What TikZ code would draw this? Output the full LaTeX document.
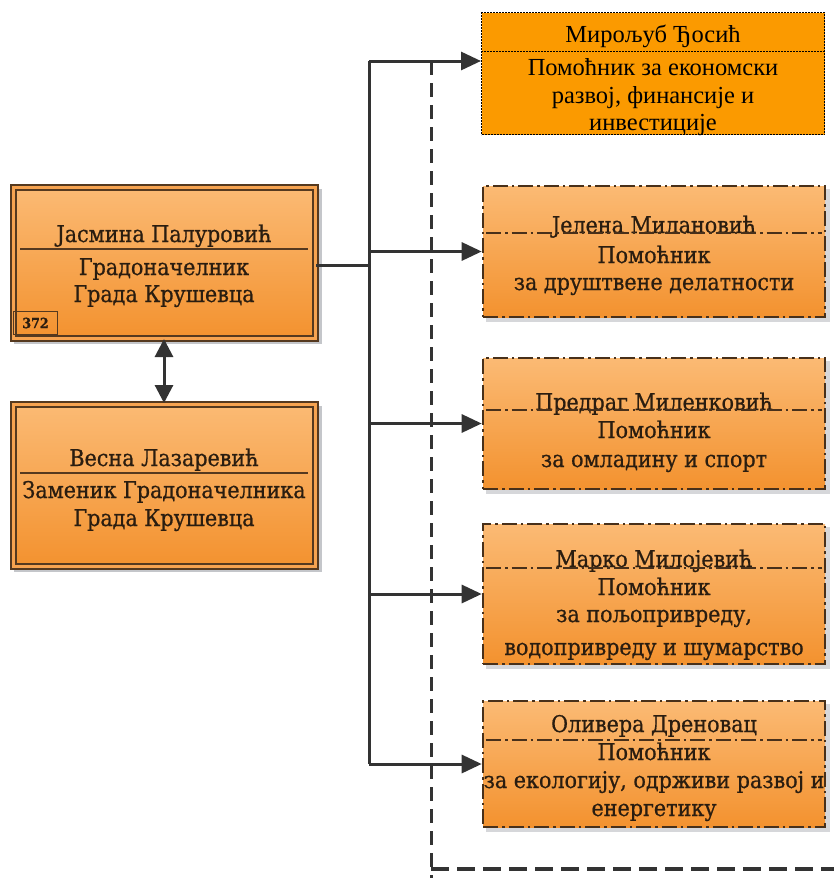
\documentclass[tikz,border=0pt]{standalone}
\usepackage{fontspec}
\setmainfont{Liberation Serif}
\newfontfamily\cam[FakeBold=0.7]{DejaVu Serif Condensed}
\usetikzlibrary{arrows.meta}
\definecolor{brn}{HTML}{55391F}
\definecolor{olight}{HTML}{FBBA74}
\definecolor{odark}{HTML}{F3922F}
\definecolor{ogap}{HTML}{F6A350}
\definecolor{otop}{HTML}{FB9A00}
\definecolor{con}{HTML}{333333}
\definecolor{txt}{HTML}{2A1D10}
\definecolor{shd}{HTML}{C4C6CA}
\begin{document}
\begin{tikzpicture}[x=1pt,y=-1pt,
  lbox/.style={draw=brn, line width=2pt, double=ogap, double distance=3pt,
    top color=olight, bottom color=odark, minimum width=302pt, inner sep=0pt},
  rbox/.style={draw=brn!85!black, line width=2.6pt, dash pattern=on 15pt off 4pt on 2.5pt off 4pt,
    top color=olight, bottom color=odark, minimum width=342pt, inner sep=0pt},
  tbox/.style={draw=black, line width=1pt, dash pattern=on 2pt off 1pt, fill=otop,
    minimum width=343pt, minimum height=122pt, inner sep=0pt},
  ctext/.style={font=\cam\fontsize{23}{26}\selectfont, text=txt, inner sep=0pt, anchor=base},
  ttext/.style={font=\fontsize{24.5}{28}\selectfont, text=black, inner sep=0pt, anchor=base},
  rdiv/.style={draw=brn!85!black, line width=2pt, dash pattern=on 15pt off 4pt on 2.5pt off 4pt},
  ldiv/.style={draw=brn, line width=2pt},
  conn/.style={draw=con, line width=3pt},
  arr/.style={conn, -{Triangle[length=20pt,width=18pt]}},
  darr/.style={conn, {Triangle[length=18pt,width=18pt]}-{Triangle[length=18pt,width=18pt]}},
  bound/.style={draw=con, line width=3pt, dash pattern=on 14pt off 8pt}
]
\useasboundingbox (0,0) rectangle (834,878);

% shadows
\fill[shd] (14,189) rectangle (322,344);
\fill[shd] (14,406) rectangle (322,572);
\foreach \a/\b in {189/322,361/494,527/669,704/832} \fill[shd!70!white] (486,\a) rectangle (830,\b);

% left boxes
\node[lbox, minimum height=151pt] (m1) at (164,262.5) {};
\node[lbox, minimum height=162pt] (m2) at (164,485) {};
% right boxes
\node[tbox] (top) at (653,73.5) {};
\node[rbox, minimum height=131pt] (eA) at (654,251.5) {};
\node[rbox, minimum height=131pt] (eB) at (654,423.5) {};
\node[rbox, minimum height=140pt] (eC) at (654,594) {};
\node[rbox, minimum height=126pt] (eD) at (654,764) {};

% boundary of the assistants' area
\coordinate (bA) at (431,61);
\coordinate (bB) at (431,878);
\coordinate (bC) at (834,869);
\draw[bound] (bA) -- (bB);
\draw[bound, line width=4pt, dash pattern=on 18pt off 8pt] (bB |- bC) -- (bC);

% texts left box 1
\node[ctext] (m1n) at (164,242) {Јасмина Палуровић};
\draw[ldiv] (20,249) -- (308,249);
\node[ctext] (m1a) at (164,275) {Градоначелник};
\node[ctext] (m1b) at (164,302) {Града Крушевца};
\node[draw=brn, line width=1.8pt, minimum width=44pt, minimum height=23pt, inner sep=0pt,
      font=\cam\bfseries\fontsize{14}{15}\selectfont, text=txt] (num) at (35.5,323) {372};

% texts left box 2
\node[ctext] (m2n) at (164,466) {Весна Лазаревић};
\draw[ldiv] (20,473) -- (308,473);
\node[ctext] (m2a) at (164,498) {Заменик Градоначелника};
\node[ctext] (m2b) at (164,526) {Града Крушевца};

% top box
\node[ttext] (tn) at (653,42) {Мирољуб Ђосић};
\draw[black, line width=1pt, dash pattern=on 2pt off 1pt] (top.west |- 0,51) -- (top.east |- 0,51);
\node[ttext] (ta) at (653,75) {Помоћник за економски};
\node[ttext] (tb) at (653,103) {развој, финансије и};
\node[ttext] (tc) at (653,130) {инвестиције};

% box A
\node[ctext] (an) at (654,233) {Јелена Милановић};
\draw[rdiv] (486,233) -- (822,233);
\node[ctext] (aa) at (654,263) {Помоћник};
\node[ctext] (ab) at (654,290) {за друштвене делатности};
% box B
\node[ctext] (bn) at (654,410) {Предраг Миленковић};
\draw[rdiv] (486,410) -- (822,410);
\node[ctext] (ba) at (654,438) {Помоћник};
\node[ctext] (bb) at (654,467) {за омладину и спорт};
% box C
\node[ctext] (cn) at (654,567) {Марко Милојевић};
\draw[rdiv] (486,568) -- (822,568);
\node[ctext] (ca) at (654,595) {Помоћник};
\node[ctext] (cb) at (654,622) {за пољопривреду,};
\node[ctext] (cc) at (654,655) {водопривреду и шумарство};
% box D
\node[ctext] (dn) at (654,732) {Оливера Дреновац};
\draw[rdiv] (486,740) -- (822,740);
\node[ctext] (da) at (654,760) {Помоћник};
\node[ctext] (db) at (654,788) {за екологију, одрживи развој и};
\node[ctext] (dc) at (654,816) {енергетику};

% connectors
\coordinate (j) at (369,265);
\coordinate (jt) at (369,61);
\draw[conn] (m1.east |- j) -- (j);
\draw[conn] (jt) -- (j |- eD.west);
\draw[arr] (jt) -- (top.west |- jt);
\draw[arr] (j |- eA.west) -- (eA.west);
\draw[arr] (j |- eB.west) -- (eB.west);
\draw[arr] (j |- eC.west) -- (eC.west);
\draw[arr] (j |- eD.west) -- (eD.west);
\draw[darr] (m1.south) -- (m2.north);
\end{tikzpicture}
\end{document}
